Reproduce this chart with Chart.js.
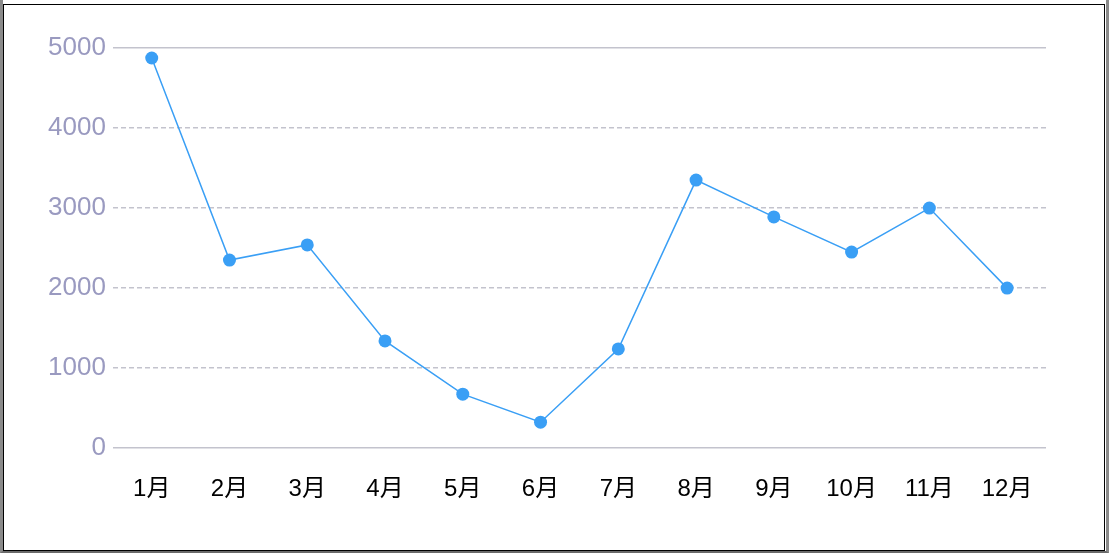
<!DOCTYPE html>
<html>
<head>
<meta charset="utf-8">
<script src="https://cdn.jsdelivr.net/npm/chart.js@4/dist/chart.umd.min.js"></script>
<style>
    html, body { margin: 0; padding: 0; background: #fff; }
    .outer {
        position: absolute; left: 0; top: 0; width: 1109px; height: 553px;
        box-sizing: border-box;
        border-left: 3px solid #8a8a8a; border-right: 3px solid #8a8a8a; border-bottom: 2px solid #6a6a6a;
    }
    .frame {
        position: absolute; left: 0; top: 4px; width: 1100px; height: 545px;
        border: 1px solid #000;
    }
    canvas { display: block; }
</style>
</head>
<body>
<div class="outer">
    <div class="frame"><canvas id="lineChart" width="1100" height="545"></canvas></div>
</div>
<script>
(function() {
    'use strict';

    const months = ['1月', '2月', '3月', '4月', '5月', '6月', '7月', '8月', '9月', '10月', '11月', '12月'];
    const values = [4875, 2350, 2540, 1340, 675, 325, 1240, 3350, 2890, 2450, 3000, 2000];
    const yMin = 0;
    const yMax = 5000;
    const yStep = 1000;

    const lineColor = '#3a9ff5';
    const gridColor = '#c3c3cd';

    const ctx = document.getElementById('lineChart').getContext('2d');
    new Chart(ctx, {
        type: 'line',
        data: {
            labels: months,
            datasets: [{
                data: values,
                borderColor: lineColor,
                backgroundColor: lineColor,
                borderWidth: 1.5,
                tension: 0,
                fill: false,
                pointRadius: 6.5,
                pointBackgroundColor: lineColor,
                pointBorderColor: lineColor,
                pointBorderWidth: 0
            }]
        },
        options: {
            responsive: false,
            animation: false,
            layout: { padding: { left: 37, right: 58, top: 43, bottom: 19 } },
            plugins: {
                legend: { display: false },
                tooltip: { enabled: false }
            },
            scales: {
                x: {
                    offset: true,
                    grid: { display: false, drawTicks: false },
                    border: { display: false },
                    ticks: {
                        color: '#000',
                        padding: 27,
                        maxRotation: 0,
                        font: { family: '"Liberation Sans", Arial, "Noto Sans CJK SC", sans-serif', size: 24 }
                    }
                },
                y: {
                    min: yMin,
                    max: yMax,
                    grid: {
                        color: gridColor,
                        lineWidth: 1.5,
                        drawTicks: false
                    },
                    border: {
                        display: false,
                        dash: function(c) {
                            if (!c.tick) return [];
                            return (c.tick.value === yMin || c.tick.value === yMax) ? [] : [5, 3];
                        }
                    },
                    ticks: {
                        stepSize: yStep,
                        color: '#9a9ac0',
                        padding: 7,
                        font: { family: '"Liberation Sans", Arial, sans-serif', size: 26 },
                        callback: function(value) { return String(value); }
                    }
                }
            }
        }
    });
})();
</script>
</body>
</html>
